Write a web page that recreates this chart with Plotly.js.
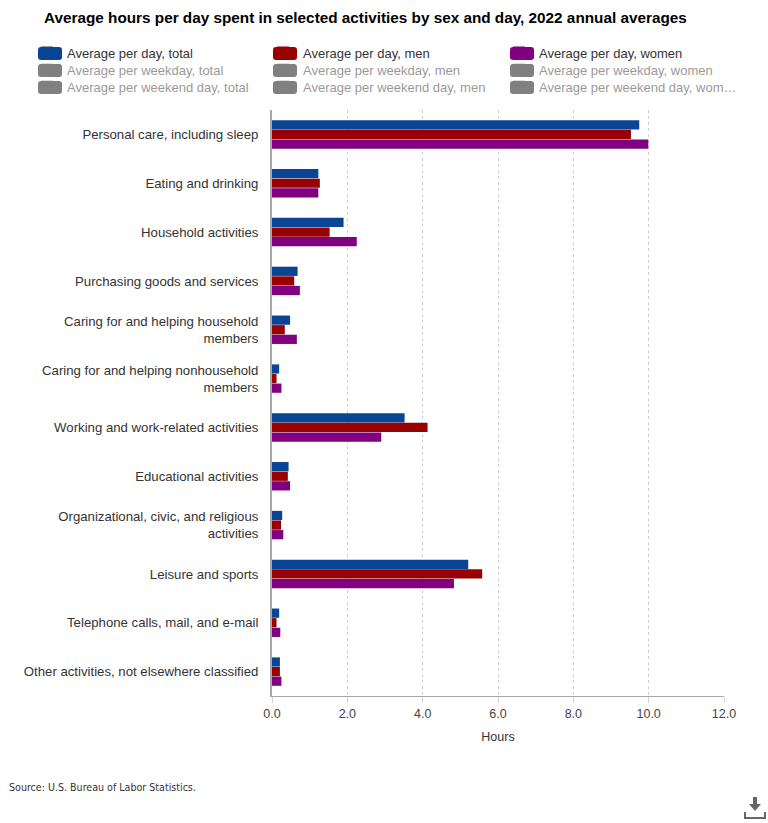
<!DOCTYPE html>
<html>
<head>
<meta charset="utf-8">
<script src="https://cdn.plot.ly/plotly-3.0.1.min.js"></script>
<style>
html,body{margin:0;padding:0;background:#fff;}
#chart{width:768px;height:823px;}
</style>
</head>
<body>
<div id="chart"></div>
<script>
const categories = [
  "Personal care, including sleep",
  "Eating and drinking",
  "Household activities",
  "Purchasing goods and services",
  "Caring for and helping household<br>members",
  "Caring for and helping nonhousehold<br>members",
  "Working and work-related activities",
  "Educational activities",
  "Organizational, civic, and religious<br>activities",
  "Leisure and sports",
  "Telephone calls, mail, and e-mail",
  "Other activities, not elsewhere classified"
];
const perDayTotal = [9.75, 1.23, 1.90, 0.68, 0.48, 0.19, 3.52, 0.44, 0.27, 5.21, 0.19, 0.21];
const perDayMen   = [9.53, 1.27, 1.53, 0.59, 0.34, 0.12, 4.13, 0.42, 0.24, 5.58, 0.12, 0.21];
const perDayWomen = [9.99, 1.23, 2.25, 0.74, 0.66, 0.25, 2.90, 0.48, 0.30, 4.83, 0.22, 0.25];
const shownNames = ["Average per day, total", "Average per day, men", "Average per day, women"];
const weekdayNames = ["Average per weekday, total", "Average per weekday, men", "Average per weekday, women"];
const weekendNames = ["Average per weekend day, total", "Average per weekend day, men", "Average per weekend day, wom…"];
const xTicks = [0, 2, 4, 6, 8, 10, 12];

const W = 768, H = 823;
const M = {l: 272, r: 44, t: 109.5, b: 127};
const PW = W - M.l - M.r, PH = H - M.t - M.b;
const px = v => (v - M.l) / PW;
const py = v => (H - M.b - v) / PH;

const seriesColors = ['#0a4595', '#990000', '#800080'];
const hiddenColor = '#808080';

const traces = [perDayTotal, perDayMen, perDayWomen].map((vals, i) => ({
  type: 'bar', orientation: 'h', name: shownNames[i], x: vals, y: categories,
  marker: {color: seriesColors[i], line: {width: 0}}, hoverinfo: 'x+name',
  legend: 'legend'
}));
[[weekdayNames, 'legend2'], [weekendNames, 'legend3']].forEach(([names, lg]) => {
  names.forEach(n => traces.push({
    type: 'bar', orientation: 'h', x: [null], y: [categories[0]],
    name: n, visible: 'legendonly', legend: lg,
    marker: {color: hiddenColor, line: {width: 0}}
  }));
});

// legend rows: text centres at 53, 70, 87 px; text starts at 67, 303, 539 px
const rowCenters = [53, 70, 87];
const colSwatchLeft = [38, 273, 510];
const legendBase = {
  orientation: 'h', x: px(27), xanchor: 'left', yanchor: 'top',
  entrywidth: 191, entrywidthmode: 'pixels',
  font: {size: 13, color: '#333'}, bgcolor: 'rgba(0,0,0,0)',
  traceorder: 'normal', itemclick: false, itemdoubleclick: false
};
const mkLegend = r => Object.assign({}, legendBase, {y: py(rowCenters[r] - 16)});

// wider rounded swatches behind the legend symbols
const swatchShapes = [];
rowCenters.forEach((cy, r) => {
  colSwatchLeft.forEach((sx, c) => {
    const x0 = px(sx), x1 = px(sx + 24), y0 = py(cy + 6.5), y1 = py(cy - 6.5);
    const rx = 3 / PW, ry = 3 / PH;
    swatchShapes.push({
      type: 'path', xref: 'paper', yref: 'paper', layer: 'above',
      line: {width: 0}, fillcolor: r === 0 ? seriesColors[c] : hiddenColor,
      path: `M${x0 + rx},${y0} L${x1 - rx},${y0} Q${x1},${y0} ${x1},${y0 + ry} L${x1},${y1 - ry} Q${x1},${y1} ${x1 - rx},${y1} L${x0 + rx},${y1} Q${x0},${y1} ${x0},${y1 - ry} L${x0},${y0 + ry} Q${x0},${y0} ${x0 + rx},${y0} Z`
    });
  });
});

const layout = {
  width: W, height: H,
  margin: M,
  paper_bgcolor: '#fff', plot_bgcolor: '#fff',
  font: {family: 'Liberation Sans, Arial, sans-serif', color: '#333', size: 12},
  title: {
    text: '<b>Average hours per day spent in selected activities by sex and day, 2022 annual averages</b>',
    font: {family: 'Liberation Sans, Arial, sans-serif', size: 15.3, color: '#000'},
    x: 44 / W, xanchor: 'left', y: 1 - 18 / H, yanchor: 'middle'
  },
  barmode: 'group',
  bargap: 0.41,
  bargroupgap: 0.04,
  showlegend: true,
  legend: mkLegend(0),
  legend2: mkLegend(1),
  legend3: mkLegend(2),
  xaxis: {
    range: [0, 12], tickvals: xTicks, tickformat: '.1f',
    showgrid: true, gridcolor: '#d0d0d0', griddash: 'dot', gridwidth: 1,
    zeroline: false,
    showline: true, linecolor: '#a8a8a8', linewidth: 1,
    ticks: 'outside', ticklen: 6, tickcolor: '#ccd6eb',
    tickfont: {size: 12.5, color: '#444'},
    title: {text: 'Hours', font: {size: 12.5, color: '#333'}, standoff: 12},
    fixedrange: true
  },
  yaxis: {
    type: 'category', autorange: 'reversed',
    showgrid: false, zeroline: false,
    showline: true, linecolor: '#a8a8a8', linewidth: 2,
    ticks: '', ticklabelstandoff: 9,
    tickfont: {size: 13.2, color: '#333'},
    fixedrange: true
  },
  annotations: [{
    text: 'Source: U.S. Bureau of Labor Statistics.',
    xref: 'paper', yref: 'paper', x: px(7), y: py(787),
    xanchor: 'left', yanchor: 'middle', showarrow: false,
    font: {family: 'Liberation Sans Narrow, DejaVu Sans Condensed, sans-serif', size: 10.6, color: '#333'}
  }],
  shapes: swatchShapes.concat([
    {type: 'path', xref: 'paper', yref: 'paper', line: {width: 0}, fillcolor: '#666',
     path: `M${px(753)},${py(797)} L${px(757)},${py(797)} L${px(757)},${py(804)} L${px(761)},${py(804)} L${px(755)},${py(811)} L${px(749)},${py(804)} L${px(753)},${py(804)} Z`},
    {type: 'path', xref: 'paper', yref: 'paper', line: {color: '#666', width: 2},
     path: `M${px(745)},${py(812)} L${px(745)},${py(818)} L${px(765)},${py(818)} L${px(765)},${py(812)}`}
  ])
};

Plotly.newPlot('chart', traces, layout, {displayModeBar: false});
</script>
</body>
</html>
